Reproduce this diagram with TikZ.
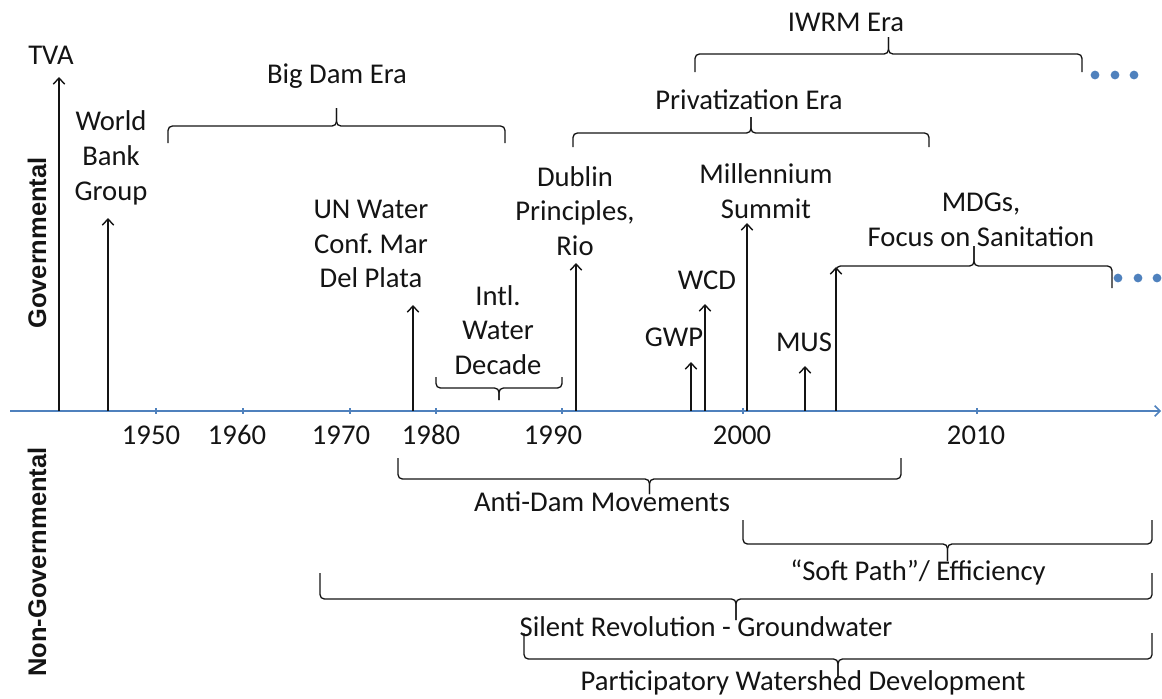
\documentclass[tikz,border=0pt]{standalone}
\usepackage{fontspec}
\setmainfont{Carlito}
\newfontfamily\sidefont{Liberation Sans}
\usetikzlibrary{arrows.meta}

\definecolor{axisblue}{RGB}{79,129,189}
\definecolor{ink}{RGB}{20,20,20}

% one era brace: left x, right x, end y, line y, tip y (pixel units)
\newcommand{\erabrace}[5]{%
  \pgfmathsetmacro{\bmid}{(#1+#2)/2}
  \draw[era] (#1,#3) -- (#1,#4) -- (\bmid,#4) -- (\bmid,#5);
  \draw[era] (#2,#3) -- (#2,#4) -- (\bmid,#4) -- (\bmid,#5);
}

\tikzset{
  lbl/.style={inner sep=0pt, align=center, text=ink, font=\fontsize{16.3}{19.8}\selectfont},
  side/.style={inner sep=0pt, rotate=90, text=ink, font=\sidefont\bfseries\fontsize{14.5}{17}\selectfont},
  evt/.style={draw=ink, line width=0.8pt, -{Straight Barb[length=3.5pt,width=6.5pt]}},
  era/.style={draw=ink, line width=0.75pt, rounded corners=2.5pt},
  axis/.style={draw=axisblue, line width=0.9pt, -{Straight Barb[length=3pt,width=6pt]}},
  dot/.style={circle, fill=axisblue, inner sep=0pt, minimum size=5pt}
}

\begin{document}
\begin{tikzpicture}[x=0.02cm, y=-0.02cm]
    \useasboundingbox (0,0) rectangle (1162,698);

    % time axis
    \coordinate (axL) at (10,411);
    \coordinate (axR) at (1161,411);
    \draw[axis] (axL) -- (axR);
    \foreach \yr/\x/\lx in {1950/156/151, 1960/243/237, 1970/350/341, 1980/436/431,
                            1990/562/553, 2000/743/742, 2010/977/976} {
      \draw[axisblue, line width=0.6pt] (\x,408) -- (\x,414);
      \node[lbl] (y\yr) at (\lx,435) {\yr};
    }

    % side labels
    \node[side] (gov) at (37,243) {Governmental};
    \node[side] (ngo) at (37,562) {Non-Governmental};

    % events
    \foreach \n/\x/\t in {tva/59/77, wbg/108/218, unw/413/305, dub/576/263, gwp/691/362,
                          wcd/705/304, mil/747/223, mus/805/366, mdg/836/267} {
      \coordinate (\n-a) at (\x,411);
      \coordinate (\n-b) at (\x,\t);
      \draw[evt] (\n-a) -- (\n-b);
    }
    \node[lbl] (tva) at (51,55) {TVA};
    \node[lbl] (wbg) at (111,158) {World\\Bank\\Group};
    \node[lbl] (unw) at (371,244) {UN Water\\Conf.\ Mar\\Del Plata};
    \node[lbl] (dub) at (575,211) {Dublin\\Principles,\\Rio};
    \node[lbl] (gwp) at (674,337) {GWP};
    \node[lbl] (wcd) at (707,280) {WCD};
    \node[lbl] (mil) at (766,191) {Millennium\\Summit};
    \node[lbl] (mus) at (804,342) {MUS};
    \node[lbl] (mdg) at (981,220) {MDGs,\\Focus on Sanitation};

    % governmental eras
    \erabrace{168}{505}{143}{126}{108}
    \node[lbl] (bigdam) at (337,76) {Big Dam Era};
    \erabrace{695}{1082}{72}{54}{37}
    \node[lbl] (iwrm) at (846,22) {IWRM Era};
    \erabrace{573}{929}{147}{133}{117}
    \node[lbl] (priv) at (749,100) {Privatization Era};
    \erabrace{436}{562}{377}{388}{400}
    \node[lbl] (iwd) at (498,330) {Intl.\\Water\\Decade};
    \erabrace{836}{1112}{288}{266}{246}

    % continuation dots
    \foreach \x [count=\i] in {1095,1115,1134}
      \node[dot] (up\i) at (\x,75) {};
    \foreach \x [count=\i] in {1118,1138,1157}
      \node[dot] (lo\i) at (\x,278) {};

    % non-governmental movements
    \erabrace{398}{901}{458}{479}{494}
    \node[lbl] (antidam) at (602,502) {Anti-Dam Movements};
    \erabrace{743}{1152}{520}{544}{561}
    \node[lbl] (soft) at (918,572) {“Soft Path”/ Efficiency};
    \erabrace{320}{1152}{573}{599}{620}
    \node[lbl] (silent) at (706,627) {Silent Revolution - Groundwater};
    \erabrace{524}{1152}{633}{659}{677}
    \node[lbl] (pwd) at (803,683) {Participatory Watershed Development};
\end{tikzpicture}
\end{document}
